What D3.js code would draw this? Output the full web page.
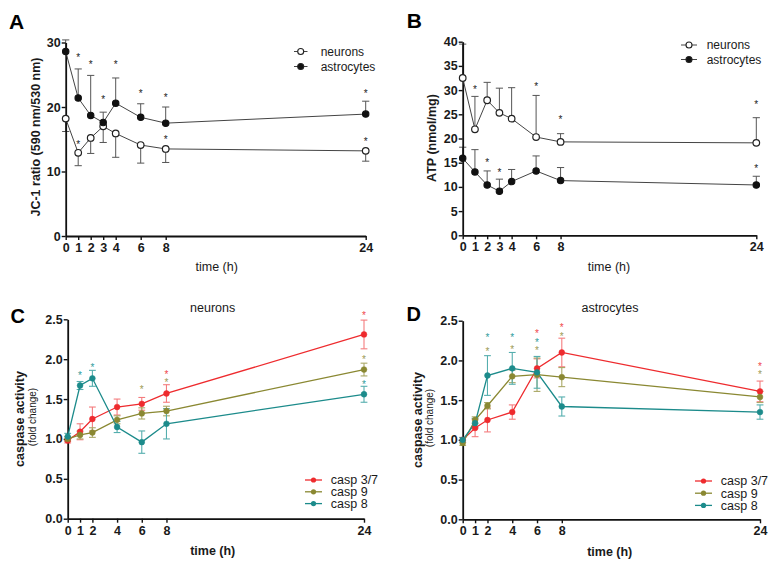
<!DOCTYPE html>
<html><head><meta charset="utf-8">
<script src="https://cdn.jsdelivr.net/npm/d3@7"></script>
<style>body{margin:0;background:#fff;} svg{display:block;}</style>
</head><body>
<svg id="c" width="775" height="568"></svg>
<script>
// ---------------- DATA ----------------
const timesAB = [0, 1, 2, 3, 4, 6, 8, 24];
const timesCD = [0, 1, 2, 4, 6, 8, 24];
const ticksAB = [0, 1, 2, 3, 4, 6, 8, 24];
const ticksCD = [0, 1, 2, 4, 6, 8, 24];
const yTicksA = [0, 10, 20, 30];
const yTicksB = [0, 5, 10, 15, 20, 25, 30, 35, 40];
const yTicksCD = [0, 0.5, 1.0, 1.5, 2.0, 2.5];

// A: JC-1 ratio
const jc1Neurons   = [18.2, 12.9, 15.2, 17.0, 15.9, 14.1, 13.5, 13.2];
const jc1NeuronsSD = [2.0, 2.0, 2.4, 2.5, 3.7, 2.8, 2.1, 1.6];
const jc1Astro     = [28.6, 21.4, 18.7, 17.6, 20.6, 18.4, 17.5, 18.9];
const jc1AstroSD   = [1.8, 4.5, 6.2, 1.6, 3.9, 2.1, 2.5, 2.0];
const starsA_astro   = [[1, 28.0], [2, 26.9], [3, 21.5], [4, 27.0], [6, 22.5], [8, 21.9], [24, 22.5]];
const starsA_neurons = [[1, 14.5], [8, 15.3], [24, 15.0]];

// B: ATP
const atpNeurons   = [32.5, 21.9, 27.9, 25.3, 24.1, 20.3, 19.3, 19.1];
const atpNeuronsSD = [7.0, 6.8, 3.7, 5.1, 6.4, 8.6, 1.7, 5.2];
const atpAstro     = [15.9, 13.1, 10.4, 9.1, 11.1, 13.3, 11.3, 10.4];
const atpAstroSD   = [2.3, 4.6, 2.9, 2.5, 2.5, 3.1, 2.7, 1.8];
const starsB_neurons = [[1, 30.6], [6, 31.3], [8, 24.4], [24, 27.5]];
const starsB_astro   = [[2, 15.6], [3, 13.4], [24, 14.2]];

// C: caspase activity, neurons
const casp37N = [0.98, 1.09, 1.25, 1.40, 1.44, 1.57, 2.31];
const casp37NSD = [0.03, 0.10, 0.15, 0.10, 0.08, 0.11, 0.18];
const casp9N  = [1.00, 1.05, 1.08, 1.24, 1.32, 1.35, 1.87];
const casp9NSD  = [0.03, 0.05, 0.06, 0.05, 0.07, 0.06, 0.08];
const casp8N  = [1.03, 1.67, 1.76, 1.15, 0.96, 1.19, 1.56];
const casp8NSD  = [0.04, 0.05, 0.10, 0.07, 0.14, 0.19, 0.10];
const starsC_37 = [[8, 1.84], [24, 2.58]];
const starsC_9  = [[6, 1.65], [8, 1.74], [24, 2.02]];
const starsC_8  = [[1, 1.83], [2, 1.92], [24, 1.71]];

// D: caspase activity, astrocytes
const casp37A = [1.00, 1.15, 1.25, 1.35, 1.90, 2.10, 1.61];
const casp37ASD = [0.03, 0.11, 0.15, 0.09, 0.12, 0.18, 0.13];
const casp9A  = [0.96, 1.25, 1.43, 1.80, 1.82, 1.79, 1.54];
const casp9ASD  = [0.03, 0.04, 0.04, 0.08, 0.21, 0.12, 0.07];
const casp8A  = [1.00, 1.21, 1.81, 1.90, 1.85, 1.42, 1.35];
const casp8ASD  = [0.03, 0.06, 0.25, 0.20, 0.20, 0.12, 0.09];
const starsD_37 = [[6, 2.37], [8, 2.44], [24, 1.95]];
const starsD_9  = [[2, 2.14], [4, 2.17], [6, 2.16], [8, 2.33], [24, 1.85]];
const starsD_8  = [[2, 2.32], [4, 2.32], [6, 2.26]];

const legendAB = ["neurons", "astrocytes"];
const legendCD = ["casp 3/7", "casp 9", "casp 8"];

// ---------------- DRAWING ----------------
const FONT = '"Liberation Sans", Arial, Helvetica, sans-serif';
const svg = d3.select('#c').attr('font-family', FONT);
const RED = '#ee2b2e', OLIVE = '#8a8832', TEAL = '#1c8b8b';
const RED_E = '#f47c7e', OLIVE_E = '#aaa866', TEAL_E = '#55aeae';

function drawAxes(x, y, xTicks, yTicks, yFmt) {
  const gx = svg.append('g').attr('transform', `translate(0,${y.range()[0]})`)
    .call(d3.axisBottom(x).tickValues(xTicks).tickSize(4).tickSizeOuter(0).tickPadding(3));
  const gy = svg.append('g').attr('transform', `translate(${x.range()[0]},0)`)
    .call(d3.axisLeft(y).tickValues(yTicks).tickFormat(yFmt).tickSize(4).tickSizeOuter(0).tickPadding(1));
  [gx, gy].forEach(g => {
    g.select('.domain').attr('stroke', '#111').attr('stroke-width', 1.8);
    g.selectAll('.tick line').attr('stroke', '#111').attr('stroke-width', 1.4);
    g.selectAll('.tick text').attr('font-family', FONT).attr('font-size', 12.5)
      .attr('font-weight', 'bold').attr('fill', '#1a1a1a');
  });
}

function errBars(x, y, times, vals, sds, dir, color, cap, sw) {
  const g = svg.append('g').attr('stroke', color).attr('stroke-width', sw || 1).attr('fill', 'none');
  times.forEach((t, i) => {
    const cx = x(t);
    const lo = dir === 'up' ? vals[i] : vals[i] - sds[i];
    const hi = dir === 'down' ? vals[i] : vals[i] + sds[i];
    g.append('line').attr('x1', cx).attr('x2', cx).attr('y1', y(lo)).attr('y2', y(hi));
    if (dir !== 'down') g.append('line').attr('x1', cx - cap).attr('x2', cx + cap).attr('y1', y(hi)).attr('y2', y(hi));
    if (dir !== 'up') g.append('line').attr('x1', cx - cap).attr('x2', cx + cap).attr('y1', y(lo)).attr('y2', y(lo));
  });
}

function seriesLine(x, y, times, vals, color, sw) {
  svg.append('path').datum(times.map((t, i) => [t, vals[i]]))
    .attr('fill', 'none').attr('stroke', color).attr('stroke-width', sw)
    .attr('d', d3.line().x(d => x(d[0])).y(d => y(d[1])));
}

function markers(x, y, times, vals, fill, stroke, r, sw) {
  svg.append('g').selectAll('circle').data(times.map((t, i) => [t, vals[i]])).join('circle')
    .attr('cx', d => x(d[0])).attr('cy', d => y(d[1])).attr('r', r)
    .attr('fill', fill).attr('stroke', stroke).attr('stroke-width', sw);
}

function stars(x, y, pts, color, fs) {
  svg.append('g').selectAll('text').data(pts).join('text')
    .attr('x', d => x(d[0])).attr('y', d => y(d[1]) + 0.58 * fs)
    .attr('text-anchor', 'middle').attr('font-size', fs).attr('fill', color).text('*');
}

function text(x, y, s, opts) {
  const t = svg.append('text').attr('x', x).attr('y', y).text(s)
    .attr('font-size', opts.size || 12.5).attr('fill', opts.fill || '#1a1a1a')
    .attr('font-weight', opts.bold ? 'bold' : 'normal')
    .attr('text-anchor', opts.anchor || 'start');
  if (opts.rotate) t.attr('transform', `rotate(-90,${x},${y})`);
  return t;
}

// ---------- Panel A ----------
{
  const x = d3.scaleLinear().domain([0, 24]).range([65.7, 365.7]);
  const y = d3.scaleLinear().domain([0, 30]).range([236, 42.5]);
  errBars(x, y, timesAB, jc1Neurons, jc1NeuronsSD, 'down', '#555', 3.6, 1);
  errBars(x, y, timesAB, jc1Astro, jc1AstroSD, 'up', '#555', 3.6, 1);
  drawAxes(x, y, ticksAB, yTicksA, d3.format('d'));
  seriesLine(x, y, timesAB, jc1Neurons, '#444', 1);
  seriesLine(x, y, timesAB, jc1Astro, '#444', 1);
  markers(x, y, timesAB, jc1Neurons, '#fff', '#222', 3.3, 1.2);
  markers(x, y, timesAB, jc1Astro, '#111', '#111', 3.2, 1.1);
  stars(x, y, starsA_astro, '#222', 10);
  stars(x, y, starsA_neurons, '#222', 10);
  text(9, 29.3, 'A', { size: 21, bold: true, fill: '#000' });
  text(39.5, 137, 'JC-1 ratio (590 nm/530 nm)', { bold: true, anchor: 'middle', rotate: true });
  text(216.7, 271, 'time (h)', { anchor: 'middle' });
  // legend
  legendAB.forEach((name, i) => {
    const ly = 51.5 + i * 15;
    svg.append('line').attr('x1', 294).attr('x2', 307.5).attr('y1', ly).attr('y2', ly).attr('stroke', '#444');
    svg.append('circle').attr('cx', 300.7).attr('cy', ly).attr('r', 3)
      .attr('fill', i === 0 ? '#fff' : '#111').attr('stroke', '#222').attr('stroke-width', 1.1);
    text(320.7, ly + 4.3, name, { size: 12 });
  });
}

// ---------- Panel B ----------
{
  const x = d3.scaleLinear().domain([0, 24]).range([462.7, 756.3]);
  const y = d3.scaleLinear().domain([0, 40]).range([235.3, 41.7]);
  errBars(x, y, timesAB, atpNeurons, atpNeuronsSD, 'up', '#555', 3.6, 1);
  errBars(x, y, timesAB, atpAstro, atpAstroSD, 'up', '#555', 3.6, 1);
  drawAxes(x, y, ticksAB, yTicksB, d3.format('d'));
  seriesLine(x, y, timesAB, atpNeurons, '#444', 1);
  seriesLine(x, y, timesAB, atpAstro, '#444', 1);
  markers(x, y, timesAB, atpNeurons, '#fff', '#222', 3.3, 1.2);
  markers(x, y, timesAB, atpAstro, '#111', '#111', 3.2, 1.1);
  stars(x, y, starsB_neurons, '#222', 10);
  stars(x, y, starsB_astro, '#222', 10);
  text(406.7, 28.3, 'B', { size: 21, bold: true, fill: '#000' });
  text(436, 138, 'ATP (nmol/mg)', { bold: true, anchor: 'middle', rotate: true });
  text(609, 271, 'time (h)', { anchor: 'middle' });
  legendAB.forEach((name, i) => {
    const ly = 45 + i * 14.5;
    svg.append('line').attr('x1', 681).attr('x2', 697).attr('y1', ly).attr('y2', ly).attr('stroke', '#444');
    svg.append('circle').attr('cx', 689).attr('cy', ly).attr('r', 3)
      .attr('fill', i === 0 ? '#fff' : '#111').attr('stroke', '#222').attr('stroke-width', 1.1);
    text(706.7, ly + 4.3, name, { size: 12 });
  });
}

// ---------- Panels C & D ----------
function caspPanel(cfg) {
  const x = d3.scaleLinear().domain([0, 24]).range(cfg.xr);
  const y = d3.scaleLinear().domain([0, 2.5]).range(cfg.yr);
  const S = cfg.series;
  S.forEach(s => errBars(x, y, timesCD, s.v, s.sd, 'both', s.ec, 3.4, 1.1));
  drawAxes(x, y, ticksCD, yTicksCD, d3.format('.1f'));
  S.forEach(s => seriesLine(x, y, timesCD, s.v, s.c, 1.3));
  S.forEach(s => markers(x, y, timesCD, s.v, s.c, s.c, 2.9, 0.5));
  S.forEach(s => stars(x, y, s.stars, s.sc, 10));
  text(cfg.lab[0], cfg.lab[1], cfg.label, { size: 20, bold: true, fill: '#000' });
  text(cfg.title[0], cfg.title[1], cfg.titleText, { anchor: 'middle', size: 12.5 });
  text(cfg.yl[0], cfg.yl[2], 'caspase activity', { bold: true, anchor: 'middle', rotate: true, size: 12.5 });
  text(cfg.yl[1], cfg.yl[2] - 2, '(fold change)', { anchor: 'middle', rotate: true, size: 10 });
  text(cfg.xl[0], cfg.xl[1], 'time (h)', { bold: true, anchor: 'middle', size: 12.5 });
  legendCD.forEach((name, i) => {
    const ly = cfg.leg[3] + i * cfg.leg[4];
    svg.append('line').attr('x1', cfg.leg[0]).attr('x2', cfg.leg[1]).attr('y1', ly).attr('y2', ly)
      .attr('stroke', S[i].c).attr('stroke-width', 1.3);
    svg.append('circle').attr('cx', cfg.leg[2]).attr('cy', ly).attr('r', 2.6).attr('fill', S[i].c);
    text(cfg.leg[1] + 8.8, ly + 4.3, name, { size: 12.5 });
  });
}

caspPanel({
  xr: [67.7, 364], yr: [518.7, 319.3],
  series: [
    { v: casp37N, sd: casp37NSD, c: RED, ec: RED_E, sc: '#f0464a', stars: starsC_37 },
    { v: casp9N, sd: casp9NSD, c: OLIVE, ec: OLIVE_E, sc: '#9c9a55', stars: starsC_9 },
    { v: casp8N, sd: casp8NSD, c: TEAL, ec: TEAL_E, sc: '#2e9c9c', stars: starsC_8 }
  ],
  label: 'C', lab: [10.5, 323],
  titleText: 'neurons', title: [212.7, 311.5],
  yl: [24.3, 35.8, 419], xl: [212.7, 555],
  leg: [305, 322, 313.5, 480, 11.8]
});

caspPanel({
  xr: [462.7, 760], yr: [519.3, 320.7],
  series: [
    { v: casp37A, sd: casp37ASD, c: RED, ec: RED_E, sc: '#f0464a', stars: starsD_37 },
    { v: casp9A, sd: casp9ASD, c: OLIVE, ec: OLIVE_E, sc: '#9c9a55', stars: starsD_9 },
    { v: casp8A, sd: casp8ASD, c: TEAL, ec: TEAL_E, sc: '#2e9c9c', stars: starsD_8 }
  ],
  label: 'D', lab: [406.5, 321],
  titleText: 'astrocytes', title: [610, 311.5],
  yl: [421.5, 433, 420], xl: [609.7, 556],
  leg: [695, 712, 703.5, 481, 12.2]
});
</script>
</body></html>
